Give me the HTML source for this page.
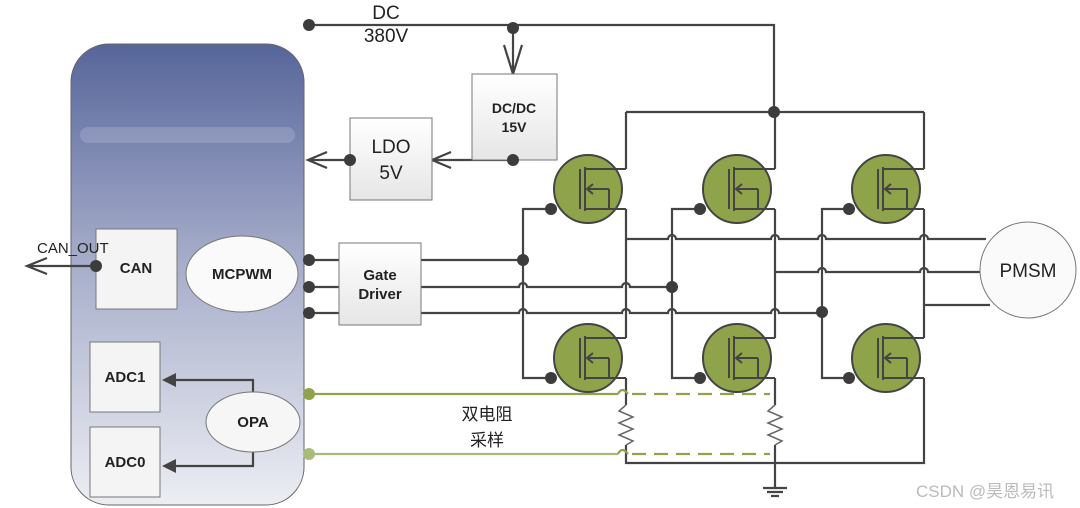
<!DOCTYPE html>
<html><head><meta charset="utf-8"><style>
html,body{margin:0;padding:0;background:#fff}
svg{display:block}
text{font-family:"Liberation Sans","Noto Sans CJK SC",sans-serif;fill:#222}
.b{font-weight:bold}
</style></head><body>
<svg width="1080" height="508" viewBox="0 0 1080 508" xmlns="http://www.w3.org/2000/svg">
<defs>
<linearGradient id="pg" x1="0" y1="0" x2="0" y2="1">
<stop offset="0" stop-color="#56659a"/><stop offset="0.45" stop-color="#a3aac8"/><stop offset="1" stop-color="#eceef3"/>
</linearGradient>
<linearGradient id="bx" x1="0" y1="0" x2="0" y2="1"><stop offset="0" stop-color="#fff"/><stop offset="1" stop-color="#e6e6e6"/></linearGradient>
<g id="fet">
<circle cx="0" cy="0" r="34" fill="#8fa34b" stroke="#444" stroke-width="2"/>
<path d="M-8 -20 V20 M-3 -22 V22 M-3 -20 H38 M-3 20 H38 M21 0 V20 M21 0 H-1 M5 -5 L-1 0 L5 5" fill="none" stroke="#444" stroke-width="2"/>
</g>
</defs>
<rect x="71" y="44" width="233" height="461" rx="38" fill="url(#pg)" stroke="#666" stroke-width="1"/>
<rect x="80" y="127" width="215" height="16" rx="8" fill="#b4bad3" opacity="0.35"/>
<g fill="none" stroke="#444" stroke-width="2.2">
<path d="M309 25 H774 V112 M626 112 H924 M626 112 V169 M775 112 V169 M924 112 V169"/>
<path d="M513 27 V74 M504 45 L513 74 L522 45"/>
<path d="M513 160 H432 M451 152 L432 160 L451 168"/>
<path d="M350 160 H308 M327 152 L308 160 L327 168"/>
<path d="M96 266 H27 M47 258 L27 266 L47 274"/>
<path d="M309 260 H339 M309 287 H339 M309 313 H339"/>
<path d="M421 260 H523"/>
<path d="M421 287 H519 a4 4 0 0 1 8 0 H622 a4 4 0 0 1 8 0 H672"/>
<path d="M421 313 H519 a4 4 0 0 1 8 0 H622 a4 4 0 0 1 8 0 H668 a4 4 0 0 1 8 0 H771 a4 4 0 0 1 8 0 H822"/>
<path d="M555 209 H523 V378 H555 M704 209 H672 V378 H704 M854 209 H822 V378 H854"/>
<path d="M626 209 V338 M775 209 V338 M924 209 V338"/>
<path d="M626 378 V405 M775 378 V405 M924 378 V463 H626 V445 M775 445 V488"/>
<path d="M626 239 H668 a4 4 0 0 1 8 0 H771 a4 4 0 0 1 8 0 H818 a4 4 0 0 1 8 0 H920 a4 4 0 0 1 8 0 H986"/>
<path d="M775 272 H818 a4 4 0 0 1 8 0 H920 a4 4 0 0 1 8 0 H980"/>
<path d="M924 305 H990"/>
<path d="M763 488 H787 M767 492 H783 M771 496 H779"/>
<path d="M253 392 V380 H175 M253 452 V466 H175"/>
</g>
<path d="M162 380 L176 373 V387 Z M162 466 L176 459 V473 Z" fill="#444"/>
<path d="M626 405 l-7 6 l14 6 l-14 6 l14 6 l-14 6 l14 6 l-7 4 M775 405 l-7 6 l14 6 l-14 6 l14 6 l-14 6 l14 6 l-7 4" fill="none" stroke="#666" stroke-width="1.5"/>
<g fill="none" stroke-width="2.2">
<path d="M309 394 H618" stroke="#8fa34b"/>
<path d="M309 454 H618" stroke="#a9bb78"/>
<path d="M618 394 q4 -8 10 0 M618 454 q4 -8 10 0" stroke="#8fa34b"/>
<path d="M632 394 H770 M632 454 H770" stroke="#8fa34b" stroke-dasharray="14 8"/>
</g>
<use href="#fet" x="588" y="189"/><use href="#fet" x="588" y="358"/>
<use href="#fet" x="737" y="189"/><use href="#fet" x="737" y="358"/>
<use href="#fet" x="886" y="189"/><use href="#fet" x="886" y="358"/>
<g stroke="#777" stroke-width="1" fill="url(#bx)">
<rect x="472" y="74" width="85" height="86"/>
<rect x="350" y="118" width="82" height="82"/>
<rect x="339" y="243" width="82" height="82"/>
<rect x="96" y="229" width="81" height="80" fill="#f4f4f4"/>
<rect x="90" y="342" width="70" height="70" fill="#f4f4f4"/>
<rect x="90" y="427" width="70" height="70" fill="#f4f4f4"/>
</g>
<ellipse cx="242" cy="274" rx="56" ry="38" fill="#fafafa" stroke="#777"/>
<ellipse cx="253" cy="422" rx="47" ry="30" fill="#f6f6f6" stroke="#777"/>
<circle cx="1028" cy="270" r="48" fill="#fafafa" stroke="#777"/>
<g fill="#3c3c3c">
<circle cx="309" cy="25" r="6"/><circle cx="513" cy="28" r="6"/><circle cx="774" cy="112" r="6"/>
<circle cx="513" cy="160" r="6"/><circle cx="350" cy="160" r="6"/><circle cx="96" cy="266" r="6"/>
<circle cx="309" cy="260" r="6"/><circle cx="309" cy="287" r="6"/><circle cx="309" cy="313" r="6"/>
<circle cx="523" cy="260" r="6"/><circle cx="672" cy="287" r="6"/><circle cx="822" cy="312" r="6"/>
<circle cx="551" cy="209" r="6"/><circle cx="551" cy="378" r="6"/>
<circle cx="700" cy="209" r="6"/><circle cx="700" cy="378" r="6"/>
<circle cx="849" cy="209" r="6"/><circle cx="849" cy="378" r="6"/>
</g>
<circle cx="309" cy="394" r="6" fill="#8fa34b"/><circle cx="309" cy="454" r="6" fill="#a9bb78"/>
<text x="386" y="19" font-size="19" text-anchor="middle">DC</text>
<text x="386" y="42" font-size="19" text-anchor="middle">380V</text>
<text x="514" y="113" font-size="14" text-anchor="middle" class="b">DC/DC</text>
<text x="514" y="132" font-size="14" text-anchor="middle" class="b">15V</text>
<text x="391" y="153" font-size="19" text-anchor="middle">LDO</text>
<text x="391" y="179" font-size="19" text-anchor="middle">5V</text>
<text x="380" y="280" font-size="15" text-anchor="middle" class="b">Gate</text>
<text x="380" y="299" font-size="15" text-anchor="middle" class="b">Driver</text>
<text x="37" y="253" font-size="15">CAN_OUT</text>
<text x="136" y="273" font-size="15" text-anchor="middle" class="b">CAN</text>
<text x="242" y="279" font-size="15" text-anchor="middle" class="b">MCPWM</text>
<text x="125" y="382" font-size="15" text-anchor="middle" class="b">ADC1</text>
<text x="125" y="467" font-size="15" text-anchor="middle" class="b">ADC0</text>
<text x="253" y="427" font-size="15" text-anchor="middle" class="b">OPA</text>
<text x="1028" y="277" font-size="19" text-anchor="middle">PMSM</text>
<text x="487" y="420" font-size="17" text-anchor="middle">双电阻</text>
<text x="487" y="446" font-size="17" text-anchor="middle">采样</text>
<text x="916" y="497" font-size="17" style="fill:#bbb">CSDN @昊恩易讯</text>
</svg>
</body></html>
